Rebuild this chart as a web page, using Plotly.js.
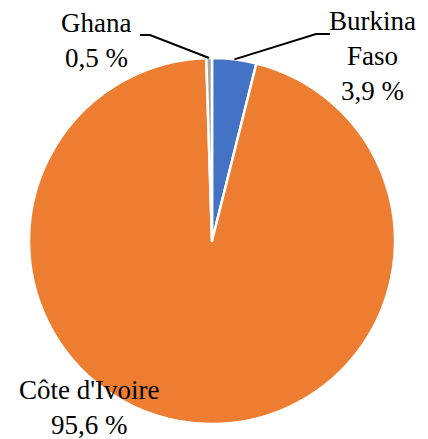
<!DOCTYPE html>
<html><head><meta charset="utf-8">
<script src="https://cdn.plot.ly/plotly-3.0.1.min.js"></script>
<style>html,body{margin:0;padding:0;background:#fff}
.annotation text, .annotation-text, .annotation tspan{font-family:"Liberation Serif","Times New Roman",serif !important;}</style>
</head><body><div id="chart" style="width:428px;height:439px"></div>
<script>
var categories = ["Burkina Faso", "Côte d'Ivoire", "Ghana"];
var labelLines = [["Burkina", "Faso"], ["Côte d'Ivoire"], ["Ghana"]];
var shares = [3.9, 95.6, 0.5];
var colors = ["#4472C4", "#ED7D31", "#A5A5A5"];

var W = 428, H = 439;
var cx = 212, cy = 241, R = 183;
function px2x(x){ return x / W; }
function px2y(y){ return 1 - y / H; }
function fmt(v){ return v.toFixed(1).replace('.', ',') + ' %'; }

var total = shares.reduce(function(a,b){return a+b;},0);
var acc = 0, mids = [];
shares.forEach(function(v){ mids.push((acc + v/2) / total * 2 * Math.PI); acc += v; });
function edge(i){ return [cx + R*Math.sin(mids[i]), cy - R*Math.cos(mids[i])]; }
var eB = edge(0), eG = edge(2);

var labelPos = [[372, 21], [89, 390], [96, 23]];
var lineGap = 35;
var annotations = [];
categories.forEach(function(c, i){
  var lines = labelLines[i].concat([fmt(shares[i])]);
  lines.forEach(function(t, k){
    annotations.push({xref:"paper", yref:"paper", x: px2x(labelPos[i][0]), y: px2y(labelPos[i][1] + k*lineGap),
      text: t, showarrow:false, xanchor:"center", yanchor:"middle",
      font: {family:"Liberation Serif", size:27, color:"#000"}});
  });
});

var data = [{
  type: "pie",
  labels: categories,
  values: shares,
  sort: false,
  direction: "clockwise",
  rotation: 0,
  textinfo: "none",
  hoverinfo: "label+percent",
  marker: {colors: colors, line: {color: "#fff", width: 2.5}},
  domain: {x: [px2x(cx-R), px2x(cx+R)], y: [px2y(cy+R), px2y(cy-R)]},
  showlegend: false
}];

var layout = {
  width: W, height: H,
  margin: {l:0, r:0, t:0, b:0},
  paper_bgcolor: "#fff",
  showlegend: false,
  shapes: [
    {type: "path", xref: "paper", yref: "paper",
     path: "M " + px2x(eB[0]) + "," + px2y(eB[1]) + " L " + px2x(316) + "," + px2y(34) + " L " + px2x(330) + "," + px2y(34),
     line: {color: "#000", width: 2}},
    {type: "path", xref: "paper", yref: "paper",
     path: "M " + px2x(eG[0]) + "," + px2y(eG[1]) + " L " + px2x(150) + "," + px2y(35) + " L " + px2x(140) + "," + px2y(35),
     line: {color: "#000", width: 2}}
  ],
  annotations: annotations
};

Plotly.newPlot("chart", data, layout, {displayModeBar:false, staticPlot:true});
</script></body></html>
